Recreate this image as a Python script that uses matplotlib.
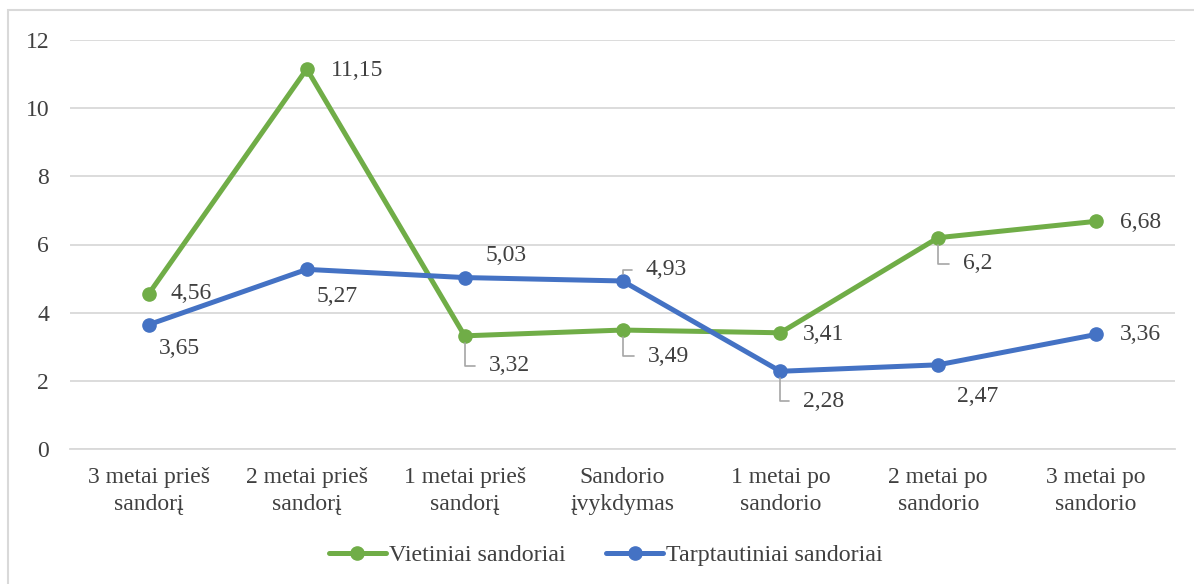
import matplotlib
matplotlib.use("Agg")
import matplotlib.pyplot as plt
from matplotlib.patches import Rectangle

categories = ["3 metai prieš\nsandorį", "2 metai prieš\nsandorį", "1 metai prieš\nsandorį",
              "Sandorio\nįvykdymas", "1 metai po\nsandorio", "2 metai po\nsandorio",
              "3 metai po\nsandorio"]
vietiniai = [4.56, 11.15, 3.32, 3.49, 3.41, 6.2, 6.68]
tarptautiniai = [3.65, 5.27, 5.03, 4.93, 2.28, 2.47, 3.36]
series_names = ["Vietiniai sandoriai", "Tarptautiniai sandoriai"]
yticks = [0, 2, 4, 6, 8, 10, 12]

GREEN = "#70AD47"
BLUE = "#4472C4"
TXT = "#404040"
FS = 17

plt.rcParams["font.family"] = ["Liberation Serif", "DejaVu Serif"]

fig = plt.figure(figsize=(11.94, 5.84), dpi=100)
W, H = 1194, 584
ax = fig.add_axes([70 / W, 1 - 449 / H, 1105 / W, 409 / H])

x = list(range(len(categories)))
ax.plot(x, vietiniai, color=GREEN, lw=3.6, marker="o", ms=9.5, label=series_names[0],
        solid_capstyle="round", zorder=3)
ax.plot(x, tarptautiniai, color=BLUE, lw=3.6, marker="o", ms=9.5, label=series_names[1],
        solid_capstyle="round", zorder=3)

ax.set_xlim(-0.5, len(categories) - 0.5)
ax.set_ylim(0, 12)
ax.set_yticks(yticks)
ax.set_yticklabels([str(t) for t in yticks], fontsize=FS, color=TXT)
ax.set_xticks(x)
ax.set_xticklabels(categories, fontsize=FS, color=TXT, linespacing=1.38)
ax.tick_params(axis="both", length=0)
ax.tick_params(axis="y", pad=15)
ax.tick_params(axis="x", pad=13)
ax.grid(axis="y", color="#D9D9D9", lw=1.3)
ax.set_axisbelow(True)
for s in ["top", "right", "left"]:
    ax.spines[s].set_visible(False)
ax.spines["bottom"].set_color("#D9D9D9")
ax.spines["bottom"].set_linewidth(1.3)

# label offsets in pixels (dx to left edge of text, dy up), and leader flag
green_off = [(22, 0, False), (24, -2, False), (24, -30, True), (25, -26, True),
             (23, -2, False), (25, -26, True), (24, -1, False)]
blue_off = [(10, -24, False), (10, -27, False), (21, 22, False), (23, 11, True),
            (23, -30, True), (19, -32, False), (24, 0, False)]

def label(vals, offs):
    for i, (v, (dx, dy, lead)) in enumerate(zip(vals, offs)):
        txt = f"{v:g}".replace(".", ",")
        if lead:
            ax.annotate(txt, xy=(i, v), xytext=(dx, dy), textcoords="offset pixels",
                        ha="left", va="center", fontsize=FS, color=TXT,
                        arrowprops=dict(arrowstyle="-", color="#A6A6A6", lw=1.2,
                                        shrinkA=8, shrinkB=5,
                                        connectionstyle="angle,angleA=0,angleB=90,rad=0"),
                        zorder=4)
        else:
            ax.annotate(txt, xy=(i, v), xytext=(dx, dy), textcoords="offset pixels",
                        ha="left", va="center", fontsize=FS, color=TXT, zorder=4)

label(vietiniai, green_off)
label(tarptautiniai, blue_off)

leg = fig.legend(loc="center", bbox_to_anchor=(606 / W, 1 - 555 / H), ncol=2, frameon=False,
                 fontsize=17.3, handlelength=2.37, handletextpad=0.13, columnspacing=1.7,
                 labelcolor=TXT)

fig.patches.append(Rectangle((8 / W, -0.1), 1.2, 1 - 10 / H + 0.1, transform=fig.transFigure,
                             fill=False, edgecolor="#D9D9D9", lw=1.5))

fig.savefig("out.png", dpi=100)
